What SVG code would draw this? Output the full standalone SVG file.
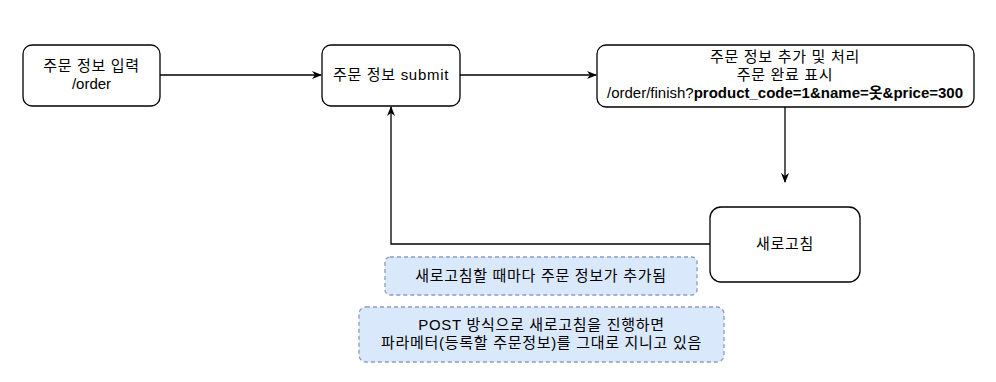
<svg xmlns="http://www.w3.org/2000/svg" width="996" height="382" viewBox="0 0 996 382">
<style>
.node{fill:#ffffff;stroke:#000000;stroke-width:1.3}
.note{fill:#dae8fc;stroke:#8a9cc4;stroke-width:1.3;stroke-dasharray:4 3}
text{font-family:"Liberation Sans","Noto Sans CJK KR",sans-serif;font-size:15px;fill:#000000;text-anchor:middle}
.k{letter-spacing:0.7px}
.b{font-weight:bold}
.edge{fill:none;stroke:#000000;stroke-width:1.3}
</style>
<defs>
<marker id="arr" viewBox="0 0 10 8" refX="9" refY="4" markerWidth="10" markerHeight="8" markerUnits="userSpaceOnUse" orient="auto">
<path d="M0,0 L10,4 L0,8 L3,4 Z" fill="#000000"/>
</marker>
</defs>
<rect width="996" height="382" fill="#ffffff"/>
<g id="connectors">
<path class="edge" d="M160,75 L321,75" marker-end="url(#arr)"/>
<path class="edge" d="M460,75 L596,75" marker-end="url(#arr)"/>
<path class="edge" d="M785,107 L785,182" marker-end="url(#arr)"/>
<path class="edge" d="M710,244 L391,244 L391,107" marker-end="url(#arr)"/>
</g>
<g id="node-input">
<rect class="node" x="23" y="45" width="137" height="61" rx="9"/>
<text class="k" x="91.5" y="71">주문 정보 입력</text>
<text x="91.5" y="89">/order</text>
</g>
<g id="node-submit">
<rect class="node" x="322" y="45" width="138" height="61" rx="9"/>
<text class="k" x="391" y="80">주문 정보 submit</text>
</g>
<g id="node-finish">
<rect class="node" x="597" y="45" width="377" height="62" rx="9"/>
<text class="k" x="785" y="62">주문 정보 추가 및 처리</text>
<text class="k" x="785" y="80">주문 완료 표시</text>
<text x="785" y="98">/order/finish?<tspan class="b">product_code=1&amp;name=옷&amp;price=300</tspan></text>
</g>
<g id="node-refresh">
<rect class="node" x="710" y="207" width="150" height="75" rx="11"/>
<text class="k" x="785" y="249">새로고침</text>
</g>
<g id="note-1">
<rect class="note" x="385" y="257" width="312" height="38" rx="5"/>
<text class="k" x="541" y="281">새로고침할 때마다 주문 정보가 추가됨</text>
</g>
<g id="note-2">
<rect class="note" x="359" y="307" width="365" height="55" rx="7"/>
<text class="k" x="541.5" y="330">POST 방식으로 새로고침을 진행하면</text>
<text class="k" x="541.5" y="348">파라메터(등록할 주문정보)를 그대로 지니고 있음</text>
</g>
</svg>
